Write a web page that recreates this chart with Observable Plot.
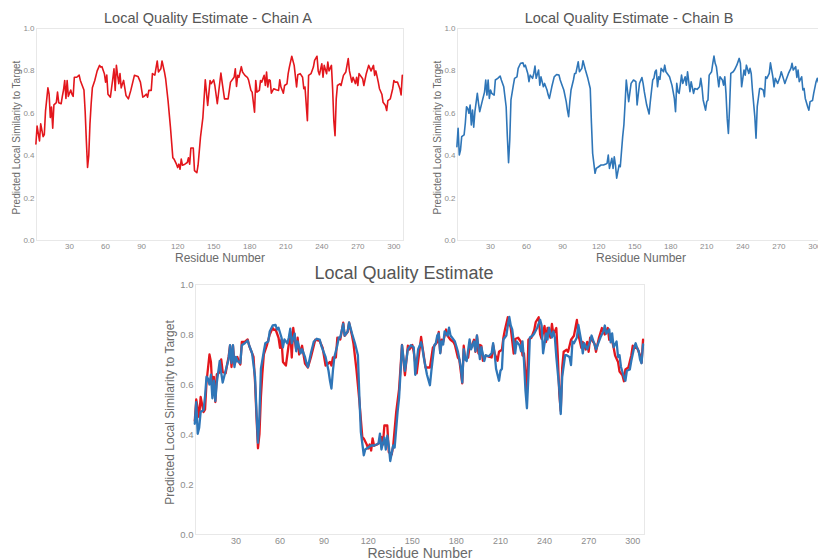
<!DOCTYPE html>
<html>
<head>
<meta charset="utf-8">
<script src="https://cdn.jsdelivr.net/npm/d3@7"></script>
<script src="https://cdn.jsdelivr.net/npm/@observablehq/plot@0.6"></script>
<style>
  html, body { margin: 0; padding: 0; background: #fff; width: 818px; height: 560px; overflow: hidden; position: relative; }
  .panel { position: absolute; }
  .panel svg { max-width: none !important; display: block; background: transparent; }
</style>
</head>
<body>
<div id="pa" class="panel" style="left:0px;top:0px;width:410px;height:268px"></div>
<div id="pb" class="panel" style="left:421px;top:0px;width:410px;height:268px"></div>
<div id="pc" class="panel" style="left:140px;top:262px;width:514px;height:298px"></div>
<script>
// ---- Data ----
const residuesA = [2,3,5,6,8,9,10,12,13,14,15,16,17,19,20,21,23,24,25,26,27,28,29,31,32,33,34,36,38,39,42,43,44,45,46,47,48,49,51,53,55,56,57,59,60,61,62,64,66,67,68,69,70,71,72,73,75,77,79,81,84,87,89,91,92,94,95,96,98,99,101,103,104,106,107,109,110,112,114,116,117,119,120,121,122,123,124,126,128,129,130,131,133,134,136,137,139,141,143,145,147,148,150,151,153,156,157,159,162,164,167,168,169,170,171,173,174,176,178,179,181,182,184,185,186,188,189,190,192,193,194,195,196,197,198,200,202,204,205,206,208,209,211,212,213,215,217,219,220,222,224,225,226,228,229,231,233,234,236,237,238,240,241,242,244,245,246,248,249,250,251,252,253,255,256,258,260,262,263,265,266,268,269,270,271,274,275,277,279,281,283,284,285,287,288,290,291,293,294,295,297,299,300,301,303,305,306,307];
const valuesA = [0.455,0.54,0.47,0.55,0.49,0.50,0.61,0.72,0.69,0.58,0.63,0.53,0.64,0.65,0.70,0.65,0.645,0.68,0.71,0.755,0.67,0.755,0.68,0.71,0.69,0.68,0.77,0.77,0.78,0.755,0.71,0.61,0.47,0.345,0.40,0.55,0.645,0.72,0.755,0.80,0.826,0.818,0.82,0.787,0.747,0.78,0.69,0.676,0.763,0.81,0.708,0.826,0.78,0.74,0.787,0.72,0.755,0.684,0.668,0.708,0.779,0.774,0.747,0.676,0.68,0.69,0.676,0.708,0.708,0.787,0.78,0.847,0.795,0.81,0.847,0.795,0.763,0.66,0.534,0.39,0.384,0.36,0.344,0.36,0.336,0.384,0.355,0.36,0.368,0.39,0.36,0.436,0.436,0.33,0.32,0.355,0.487,0.58,0.758,0.637,0.755,0.74,0.758,0.73,0.645,0.79,0.747,0.668,0.668,0.747,0.77,0.81,0.727,0.779,0.77,0.82,0.795,0.779,0.77,0.758,0.708,0.70,0.605,0.755,0.70,0.708,0.755,0.747,0.779,0.731,0.795,0.724,0.758,0.755,0.695,0.716,0.711,0.708,0.758,0.724,0.695,0.731,0.739,0.787,0.818,0.869,0.826,0.724,0.782,0.787,0.77,0.716,0.724,0.565,0.779,0.787,0.818,0.85,0.869,0.80,0.782,0.834,0.77,0.826,0.787,0.842,0.80,0.826,0.716,0.565,0.494,0.668,0.731,0.739,0.731,0.779,0.795,0.858,0.80,0.747,0.77,0.74,0.77,0.731,0.787,0.763,0.731,0.787,0.826,0.80,0.826,0.779,0.80,0.747,0.716,0.69,0.652,0.637,0.613,0.66,0.668,0.716,0.755,0.747,0.747,0.716,0.687,0.779];

const residuesB = [2,3,4,5,6,8,9,10,11,12,13,14,15,16,17,19,20,21,23,25,26,27,28,29,30,31,33,34,36,38,39,41,43,44,45,46,47,49,50,52,53,55,57,58,59,61,62,63,65,66,67,68,70,71,72,74,75,77,78,79,81,83,85,87,88,90,91,93,94,95,96,97,99,100,101,103,104,106,107,109,111,113,114,115,117,118,120,122,124,126,127,128,129,131,132,133,134,135,137,138,140,141,142,143,145,147,149,151,152,154,156,157,158,160,162,163,165,166,167,168,169,170,171,172,174,175,176,179,181,182,183,184,185,186,187,189,190,192,193,194,196,197,199,200,202,204,205,206,207,209,210,211,212,214,215,216,217,218,220,221,223,224,225,226,227,228,229,230,232,233,235,237,238,239,241,242,243,245,246,247,248,250,251,252,254,255,257,258,259,260,262,263,265,266,267,269,271,272,274,275,276,278,280,281,282,284,285,286,287,289,290,291,292,294,295,296,298,299,301,302,303,304,305,306,307];
const valuesB = [0.443,0.529,0.403,0.427,0.49,0.498,0.553,0.631,0.623,0.60,0.639,0.545,0.615,0.534,0.608,0.694,0.647,0.608,0.655,0.70,0.757,0.686,0.757,0.67,0.71,0.694,0.686,0.757,0.765,0.776,0.757,0.725,0.631,0.49,0.367,0.474,0.663,0.733,0.765,0.772,0.812,0.836,0.838,0.82,0.827,0.788,0.749,0.78,0.765,0.788,0.823,0.765,0.804,0.733,0.772,0.725,0.741,0.71,0.686,0.67,0.725,0.772,0.783,0.78,0.757,0.725,0.71,0.655,0.615,0.584,0.655,0.71,0.757,0.788,0.788,0.843,0.796,0.812,0.848,0.804,0.765,0.717,0.553,0.411,0.317,0.34,0.348,0.356,0.356,0.361,0.364,0.403,0.34,0.388,0.34,0.395,0.356,0.294,0.356,0.348,0.49,0.545,0.647,0.757,0.655,0.741,0.757,0.749,0.639,0.741,0.769,0.741,0.702,0.639,0.597,0.655,0.757,0.765,0.796,0.804,0.725,0.772,0.76,0.812,0.796,0.827,0.796,0.772,0.733,0.702,0.67,0.608,0.741,0.702,0.694,0.78,0.741,0.772,0.733,0.796,0.702,0.749,0.694,0.717,0.713,0.725,0.765,0.725,0.663,0.615,0.655,0.663,0.78,0.796,0.836,0.87,0.836,0.82,0.725,0.772,0.757,0.733,0.772,0.694,0.576,0.505,0.631,0.788,0.796,0.804,0.827,0.859,0.836,0.725,0.804,0.78,0.827,0.788,0.812,0.788,0.71,0.584,0.482,0.631,0.717,0.717,0.71,0.678,0.772,0.765,0.788,0.838,0.772,0.725,0.765,0.741,0.772,0.796,0.76,0.741,0.757,0.788,0.812,0.836,0.804,0.82,0.769,0.804,0.749,0.772,0.71,0.717,0.67,0.631,0.615,0.655,0.66,0.694,0.749,0.765,0.745,0.735,0.70,0.685,0.76];

const xTicks = [30, 60, 90, 120, 150, 180, 210, 240, 270, 300];
const yTicks = [0, 0.2, 0.4, 0.6, 0.8, 1.0];
const xDomain = [2.5, 308];
const titleA = "Local Quality Estimate - Chain A";
const titleB = "Local Quality Estimate - Chain B";
const titleC = "Local Quality Estimate";
const xLabel = "Residue Number";
const yLabel = "Predicted Local Similarity to Target";

const RED = "#e3161c";
const BLUE = "#2f76b8";
const FONT = "'Liberation Sans', Arial, sans-serif";
const centered = {textAnchor: "middle", lineAnchor: "middle"};

function topPanel(title, residues, values, color) {
  return Plot.plot({
    width: 410, height: 268,
    marginLeft: 36, marginRight: 7, marginTop: 28, marginBottom: 28,
    style: {fontFamily: FONT, color: "#8c8c8c", background: "transparent"},
    x: {domain: xDomain, axis: null},
    y: {domain: [0, 1], axis: null},
    marks: [
      Plot.frame({stroke: "#e8e8e8"}),
      Plot.axisX(xTicks, {tickSize: 0, tickPadding: 3, fontSize: 8, label: null}),
      Plot.axisY(yTicks, {tickSize: 0, tickPadding: 2, fontSize: 8, label: null, tickFormat: d => d.toFixed(1)}),
      Plot.line(values, {x: residues, y: values, stroke: color, strokeWidth: 1.6}),
      Plot.text([title], {text: d => d, frameAnchor: "top", dy: -10, dx: -12, fontSize: 14.5, fill: "#555", ...centered}),
      Plot.text([xLabel], {text: d => d, frameAnchor: "bottom", dy: 18, fontSize: 12, fill: "#6a6a6a", ...centered}),
      Plot.text([yLabel], {text: d => d, frameAnchor: "left", rotate: -90, dx: -20, dy: 3, fontSize: 10, fill: "#6a6a6a", ...centered})
    ]
  });
}

document.getElementById("pa").appendChild(topPanel(titleA, residuesA, valuesA, RED));
document.getElementById("pb").appendChild(topPanel(titleB, residuesB, valuesB, BLUE));

const plotC = Plot.plot({
  width: 514, height: 298,
  marginLeft: 55, marginRight: 10, marginTop: 22, marginBottom: 26,
  style: {fontFamily: FONT, color: "#8c8c8c", background: "transparent"},
  x: {domain: xDomain, axis: null},
  y: {domain: [0, 1], axis: null},
  marks: [
    Plot.frame({stroke: "#e8e8e8"}),
    Plot.axisX(xTicks, {tickSize: 0, tickPadding: 3, fontSize: 9, label: null}),
    Plot.axisY(yTicks, {tickSize: 0, tickPadding: 2, fontSize: 9.5, label: null, tickFormat: d => d.toFixed(1)}),
    Plot.line(valuesA, {x: residuesA, y: valuesA, stroke: RED, strokeWidth: 2.3}),
    Plot.line(valuesB, {x: residuesB, y: valuesB, stroke: BLUE, strokeWidth: 2.3}),
    Plot.text([titleC], {text: d => d, frameAnchor: "top", dy: -11, dx: -16, fontSize: 18, fill: "#555", ...centered}),
    Plot.text([xLabel], {text: d => d, frameAnchor: "bottom", dy: 19.5, fontSize: 14, fill: "#6a6a6a", ...centered}),
    Plot.text([yLabel], {text: d => d, frameAnchor: "left", rotate: -90, dx: -25, dy: 3, fontSize: 12, fill: "#6a6a6a", ...centered})
  ]
});
document.getElementById("pc").appendChild(plotC);
</script>
</body>
</html>
